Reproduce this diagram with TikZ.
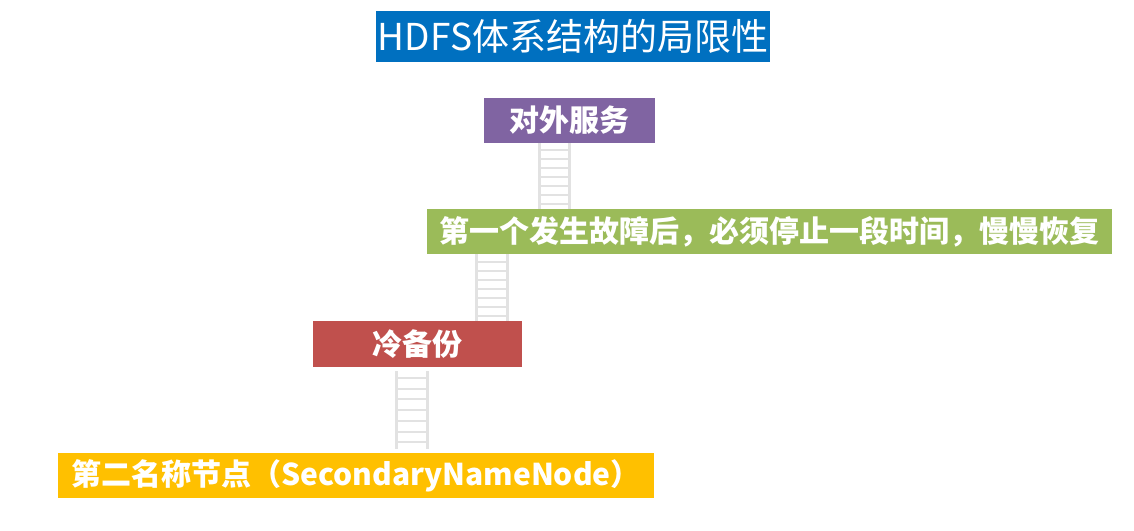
\documentclass[tikz,border=0pt]{standalone}
\usepackage{fontspec}
\newfontfamily\cjk{Noto Sans CJK SC}
\definecolor{titleblue}{HTML}{0070C0}
\definecolor{boxpurple}{HTML}{8064A2}
\definecolor{boxgreen}{HTML}{9BBB59}
\definecolor{boxred}{HTML}{C0504D}
\definecolor{boxyellow}{HTML}{FFC000}
\definecolor{railgray}{HTML}{E2E2E2}
\tikzset{
  lvl/.style={rectangle, inner sep=0pt, minimum height=45pt, text=white,
    font=\cjk\bfseries\fontsize{30}{30}\selectfont},
  rail/.style={draw=railgray, line width=3pt},
  rung/.style={draw=railgray, line width=2pt},
}
\begin{document}
\begin{tikzpicture}[x=1pt,y=-1pt]
\useasboundingbox (0,0) rectangle (1134,530);
\node[rectangle, fill=titleblue, minimum width=394pt, minimum height=51pt, inner sep=0pt,
  text=white, font=\cjk\fontsize{37}{37}\selectfont] (title) at (573,36.5) {HDFS体系结构的局限性};
\node[lvl, fill=boxpurple, minimum width=171pt] (svc) at (569.5,120.5) {对外服务};
\node[lvl, fill=boxgreen, minimum width=685pt] (fail) at (769.5,231.5) {第一个发生故障后，必须停止一段时间，慢慢恢复};
\node[lvl, fill=boxred, minimum width=209pt, minimum height=46pt] (cold) at (417.5,344) {冷备份};
\node[lvl, fill=boxyellow, minimum width=596pt] (snn) at (356,475.5) {第二名称节点（SecondaryNameNode）};
% ladder 1
\coordinate (a1) at (539,0); \coordinate (b1) at (569,0);
\draw[rail] (svc.south -| a1) -- (fail.north -| a1);
\draw[rail] (svc.south -| b1) -- (fail.north -| b1);
\foreach \y in {150,159,...,204} \draw[rung] (539,\y) -- (569,\y);
% ladder 2
\coordinate (a2) at (476,0); \coordinate (b2) at (507,0);
\draw[rail] (fail.south -| a2) -- (cold.north -| a2);
\draw[rail] (fail.south -| b2) -- (cold.north -| b2);
\foreach \y in {262,271,...,316} \draw[rung] (476,\y) -- (507,\y);
% ladder 3
\coordinate (a3) at (396,0); \coordinate (b3) at (427,0);
\draw[rail] ([yshift=-4pt]cold.south -| a3) -- ([yshift=4pt]snn.north -| a3);
\draw[rail] ([yshift=-4pt]cold.south -| b3) -- ([yshift=4pt]snn.north -| b3);
\foreach \y in {378,388.7,...,443} \draw[rung] (396,\y) -- (427,\y);
\end{tikzpicture}
\end{document}
